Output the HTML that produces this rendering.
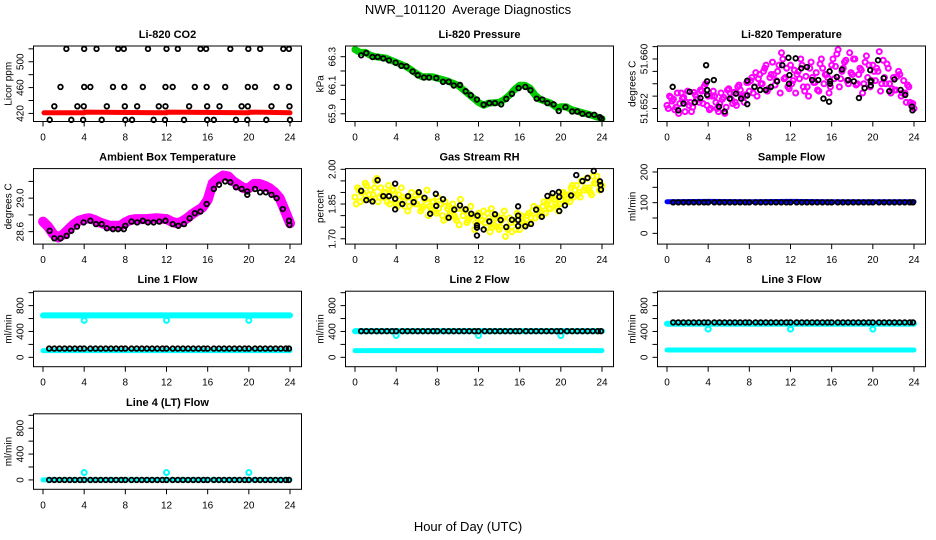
<!DOCTYPE html>
<html><head><meta charset="utf-8">
<style>
html,body{margin:0;padding:0;background:#fff;}
svg{display:block;font-family:"Liberation Sans",Arial,sans-serif;}
</style></head>
<body>
<svg id="chart" width="936" height="540" viewBox="0 0 936 540">
<rect width="936" height="540" fill="#fff"/>
<text x="468" y="14" font-size="13" text-anchor="middle">NWR_101120&#160; Average Diagnostics</text>
<text x="468" y="531" font-size="13" text-anchor="middle">Hour of Day (UTC)</text>
</svg>
<script>
// ---------- data ----------
const xTicks = [0,4,8,12,16,20,24];

const co2Hours = [2.27,4.0,5.2,7.3,7.85,10.2,12.0,13.1,15.3,15.85,18.2,19.95,21.1,23.35,23.9,
 1.7,4.0,4.6,6.8,7.9,9.7,11.9,12.6,14.75,15.9,17.7,19.9,20.6,22.7,23.9,
 1.1,3.34,3.96,6.2,7.95,9.15,11.25,11.9,14.2,15.95,17.15,19.3,19.9,22.2,23.95,
 0.65,2.75,3.9,5.7,8.0,8.65,10.75,11.85,13.7,15.95,16.6,18.75,19.85,21.7,24.0];
const co2Vals = [520,520,520,520,520,520,520,520,520,520,520,520,520,520,520,
 461,461,461,461,461,461,461,461,461,461,461,461,461,461,461,
 431,431,431,431,431,431,431,431,431,431,431,431,431,431,431,
 410,410,410,410,410,410,410,410,410,410,410,410,410,410,410];
const co2RedHours = [0.1,4,4.1,12,12.1,20,20.1,24];
const co2RedVals = [421,421,422,421,422,421,422,421];

const presHours = [0.6,1.1,1.7,2.2,2.75,3.3,3.95,4.5,5.0,5.6,6.1,6.7,7.2,7.9,8.55,9.1,9.6,10.2,10.75,11.25,11.85,12.5,13.05,13.6,14.2,14.7,15.25,15.9,16.55,17.05,17.65,18.2,18.7,19.3,19.8,20.45,21.1,21.6,22.1,22.7,23.25,23.8,23.95];
const presVals = [66.31,66.326,66.298,66.298,66.288,66.274,66.258,66.236,66.232,66.196,66.17,66.154,66.154,66.15,66.124,66.124,66.098,66.102,66.058,66.03,66.0,65.964,65.975,65.975,65.966,66.004,66.04,66.08,66.088,66.065,66.006,66.0,65.975,65.966,65.92,65.947,65.916,65.916,65.9,65.893,65.893,65.876,65.865];
const presGreenHours = [0,0.5,1,1.5,2,3,4,5,6,6.5,7.5,8,9,10,11,12,12.5,13,14,14.5,15,15.5,16,16.5,17,17.5,18,19,19.7,20,20.5,21,22,23,24];
const presGreenVals = [66.35,66.33,66.33,66.31,66.3,66.29,66.26,66.23,66.18,66.16,66.16,66.15,66.13,66.1,66.04,65.98,65.96,65.975,65.98,66.0,66.03,66.07,66.1,66.1,66.08,66.03,66.0,65.975,65.94,65.95,65.95,65.93,65.91,65.89,65.865];

const ltHours = [0.55,1.1,1.6,2.2,2.7,3.25,3.8,3.9,3.9,3.9,4.55,5.05,5.6,6.1,6.7,7.2,7.8,7.8,7.8,8.5,9.05,9.6,10.1,10.7,11.2,11.8,11.85,11.9,12.5,13.05,13.6,14.1,14.7,15.2,15.75,15.8,15.85,15.85,16.5,17.0,17.6,18.15,18.65,19.2,19.75,19.8,19.8,19.8,20.5,21.05,21.6,22.1,22.7,23.15,23.8,23.85];
const ltVals = [51.6555,51.6517,51.6528,51.6547,51.653,51.6537,51.659,51.6564,51.655,51.6542,51.6566,51.6523,51.6515,51.6536,51.6544,51.6536,51.6541,51.6527,51.6565,51.6555,51.655,51.655,51.6555,51.6564,51.659,51.6602,51.656,51.6574,51.6601,51.6585,51.6587,51.6566,51.6566,51.6536,51.6531,51.658,51.6564,51.656,51.6571,51.6583,51.6566,51.6564,51.6537,51.6553,51.6582,51.6563,51.6565,51.6557,51.6598,51.6569,51.6548,51.6567,51.655,51.6542,51.6523,51.6517];
const ltMagA = [51.6525,51.6540,51.6532,51.6518,51.6545,51.6528,51.6536,51.6515,51.6548,51.6530,51.6522,51.6542,51.6535,
 51.6550,51.6528,51.6560,51.6540,51.6520,51.6548,51.6530,51.6515,51.6545,51.6538,51.6522,51.6552,
 51.6535,51.6546,51.6525,51.6558,51.6540,51.6530,51.6562,51.6548,51.6570,51.6555,51.6540,51.6575,
 51.6560,51.6585,51.6548,51.6570,51.6595,51.6558,51.6580,51.6545,51.6600,51.6570,51.6555,51.6590,
 51.6565,51.6545,51.6580,51.6600,51.6555,51.6572,51.6540,51.6595,51.6562,51.6578,51.6548,51.6600,
 51.6560,51.6575,51.6545,51.6590,51.6568,51.6608,51.6555,51.6580,51.6595,51.6565,51.6610,51.6575,
 51.6600,51.6560,51.6585,51.6545,51.6595,51.6570,51.6555,51.6590,51.6565,51.6580,51.6548,51.6598,
 51.6560,51.6585,51.6545,51.6570,51.6550,51.6580,51.6540,51.6565,51.6530,51.6555,51.6525,51.6520];
const ltMagB = [51.6520,51.6535,51.6512,51.6538,51.6525,51.6546,51.6530,51.6556,51.6518,51.6540,51.6528,51.6512,51.6545,51.6530,51.6550,51.6542,51.6565,51.6578,51.6560,51.6590,51.6575,51.6565,51.6610,51.6585,51.6560,51.6575,51.6590,51.6555,51.6570,51.6550,51.6585,51.6570,51.6600,51.6615,51.6585,51.6560,51.6600,51.6575,51.6560,51.6590,51.6580,51.6612,51.6570,51.6560,51.6550,51.6575,51.6545,51.6530];
const ltMagC = [51.6538,51.6522,51.6545,51.6530,51.6515,51.6535,51.6548,51.6525,51.6540,51.6520,51.6535,51.6550,51.6528,51.6555,51.6538,51.6562,51.6545,51.6568,51.6580,51.6552,51.6575,51.6590,51.6568,51.6552,51.6582,51.6568,51.6548,51.6585,51.6562,51.6592,51.6575,51.6555,51.6588,51.6568,51.6598,51.6578,51.6558,51.6582,51.6605,51.6565,51.6585,51.6560,51.6592,51.6552,51.6572,51.6545,51.6558,51.6528];

const ambHours = [0.65,1.1,1.7,2.3,2.75,3.3,3.95,4.6,5.15,5.7,6.2,6.8,7.3,7.85,8.0,8.6,9.15,9.7,10.2,10.75,11.3,11.9,12.6,13.15,13.7,14.25,14.75,15.3,15.9,16.6,17.1,17.7,18.2,18.75,19.3,19.85,19.85,20.6,21.1,21.65,22.2,22.7,23.3,23.9,23.95];
const ambVals = [28.61,28.52,28.52,28.55,28.61,28.66,28.71,28.73,28.69,28.69,28.64,28.63,28.63,28.63,28.67,28.72,28.71,28.73,28.71,28.71,28.72,28.73,28.69,28.67,28.69,28.76,28.82,28.84,28.93,29.11,29.16,29.2,29.19,29.13,29.11,29.08,29.04,29.11,29.07,29.07,29.04,29.0,28.87,28.73,28.68];
const ambMagHours = [0,0.5,1,1.5,2,2.5,3,3.5,4,4.5,5,5.5,6,6.5,7,7.5,8,8.5,9,10,11,12,12.5,13,13.5,14,14.5,15,15.5,16,16.5,17,17.5,18,18.5,19,19.5,20,20.5,21,21.5,22,22.5,23,23.5,24];
const ambMagVals = [28.72,28.66,28.57,28.53,28.57,28.63,28.69,28.73,28.75,28.76,28.74,28.71,28.69,28.67,28.67,28.67,28.71,28.74,28.75,28.75,28.76,28.75,28.72,28.70,28.72,28.76,28.81,28.85,28.89,28.98,29.18,29.23,29.27,29.26,29.2,29.16,29.12,29.12,29.17,29.17,29.15,29.12,29.07,29.0,28.85,28.7];

const rhHours = [0.6,1.1,1.7,2.2,2.75,3.3,3.9,3.9,3.9,4.6,5.15,5.7,6.2,6.75,7.3,7.85,7.9,8.55,9.1,9.65,10.2,10.75,11.3,11.85,11.85,11.85,11.9,12.5,13.05,13.6,14.15,14.7,15.25,15.85,15.85,15.85,15.85,16.55,17.1,17.6,18.15,18.7,19.2,19.8,19.85,19.85,20.4,21.0,21.5,22.1,22.6,23.2,23.8,23.85,23.9];
const rhVals = [1.907,1.867,1.861,1.953,1.884,1.884,1.938,1.873,1.827,1.85,1.884,1.858,1.901,1.877,1.808,1.894,1.842,1.871,1.791,1.826,1.844,1.827,1.808,1.758,1.748,1.714,1.8,1.74,1.775,1.806,1.781,1.751,1.782,1.781,1.84,1.8,1.755,1.754,1.764,1.826,1.795,1.885,1.897,1.902,1.881,1.82,1.844,1.887,1.975,1.949,1.963,1.993,1.948,1.932,1.912];
const rhYelA = [1.88,1.92,1.86,1.90,1.94,1.87,1.91,1.89,1.95,1.86,1.92,1.88,1.90,
 1.93,1.87,1.91,1.85,1.89,1.92,1.86,1.88,1.84,1.90,1.87,1.85,
 1.89,1.83,1.87,1.91,1.84,1.86,1.82,1.88,1.85,1.80,1.86,1.83,
 1.81,1.85,1.79,1.83,1.87,1.80,1.82,1.78,1.84,1.80,1.77,1.81,
 1.78,1.82,1.75,1.79,1.83,1.76,1.80,1.74,1.78,1.82,1.75,1.79,
 1.73,1.77,1.81,1.74,1.78,1.76,1.80,1.77,1.82,1.79,1.83,1.80,
 1.84,1.81,1.86,1.83,1.88,1.85,1.82,1.87,1.90,1.86,1.89,1.92,
 1.88,1.93,1.90,1.95,1.91,1.96,1.92,1.89,1.94,1.97,1.91,1.93];
const rhYelB = [1.85,1.90,1.93,1.87,1.96,1.89,1.86,1.91,1.84,1.88,1.82,1.87,1.90,1.84,1.80,1.86,1.83,1.78,1.84,1.80,1.76,1.82,1.79,1.74,1.80,1.77,1.73,1.79,1.75,1.71,1.77,1.74,1.80,1.76,1.79,1.83,1.81,1.85,1.88,1.84,1.90,1.87,1.93,1.89,1.95,1.91,1.97,1.94];
const rhYelC = [1.91,1.87,1.89,1.92,1.88,1.90,1.85,1.89,1.87,1.84,1.88,1.85,1.82,1.87,1.83,1.81,1.85,1.79,1.82,1.78,1.83,1.77,1.80,1.76,1.78,1.81,1.75,1.77,1.79,1.74,1.78,1.80,1.77,1.81,1.84,1.80,1.86,1.83,1.87,1.85,1.89,1.86,1.91,1.88,1.92,1.90,1.94,1.92];

const flowHours = [0.6,1.1,1.6,2.1,2.6,3.1,3.6,4.0,4.6,5.1,5.6,6.1,6.6,7.1,7.6,8.0,8.6,9.1,9.6,10.1,10.6,11.1,11.6,12.0,12.6,13.1,13.6,14.1,14.6,15.1,15.6,16.0,16.6,17.1,17.6,18.1,18.6,19.1,19.6,20.0,20.6,21.1,21.6,22.1,22.6,23.1,23.6,23.9];
const bandHours = [0,4,8,12,16,20,24];
const dipHours = [4,12,20];

const sampleBlack = [101,101,101,101,101,101,101,101,101,101,101,101,101,101,101,101,101,101,101,101,101,101,101,101,101,101,101,101,101,101,101,101,101,101,101,101,101,101,101,101,101,101,101,101,101,101,101,101];
const sampleBlue = [103,104,103,104,103,103,103];

const l1Black = [135,135,135,135,135,135,135,135,135,135,135,135,135,135,135,135,135,135,135,135,135,135,135,135,135,135,135,135,135,135,135,135,135,135,135,135,135,135,135,135,135,135,135,135,135,135,135,135];
const l1CyanHi = [649,649,649,649,649,649,649];
const l1CyanLo = [104,104,104,104,104,104,104];
const l1Dips = [571,571,571];

const l2Black = [405,405,405,405,405,405,405,405,405,405,405,405,405,405,405,405,405,405,405,405,405,405,405,405,405,405,405,405,405,405,405,405,405,405,405,405,405,405,405,405,405,405,405,405,405,405,405,405];
const l2CyanHi = [405,405,405,405,405,405,405];
const l2CyanLo = [104,104,104,104,104,104,104];
const l2Dips = [337,337,337];

const l3Black = [540,540,540,540,540,540,540,540,540,540,540,540,540,540,540,540,540,540,540,540,540,540,540,540,540,540,540,540,540,540,540,540,540,540,540,540,540,540,540,540,540,540,540,540,540,540,540,540];
const l3CyanHi = [519,519,519,519,519,519,519];
const l3CyanLo = [114,114,114,114,114,114,114];
const l3Dips = [436,436,436];

const l4Black = [0,0,0,0,0,0,0,0,0,0,0,0,0,0,0,0,0,0,0,0,0,0,0,0,0,0,0,0,0,0,0,0,0,0,0,0,0,0,0,0,0,0,0,0,0,0,0,0];
const l4Cyan = [0,0,0,0,0,0,0];
const l4Dips = [114,114,114];

// ---------- drawing ----------
const NS = "http://www.w3.org/2000/svg";
const svg = document.getElementById("chart");
function mk(tag, attrs, parent){
  const e = document.createElementNS(NS, tag);
  for (const k in attrs) e.setAttribute(k, attrs[k]);
  (parent||svg).appendChild(e);
  return e;
}
function makePanel(col,row,title,ylab,ymin,ymax,yticks,ylabels,name){
  const L = 33.5 + 312*col, R = 301.5 + 312*col;
  const T = 46 + 122.6*row, B = T + 75.5;
  const g = mk("g",{});
  
  
  const xs = h => L + 9.5 + h*(247/24);
  const ys = v => B - (v - ymin)/(ymax - ymin)*(B - T);
  const t = mk("text",{x:(L+R)/2, y:T-8, "font-size":11, "font-weight":"bold", "text-anchor":"middle"}, g);
  t.textContent = title;
  
  
  xTicks.forEach(h=>{
    mk("line",{x1:xs(h),x2:xs(h),y1:B,y2:B+5,stroke:"#000","stroke-width":1}, g);
    const lt = mk("text",{x:xs(h), y:B+19, "font-size":10, "text-anchor":"middle"}, g);
    lt.textContent = h;
    
    
  });
  yticks.forEach(v=>{
    mk("line",{x1:L-5,x2:L,y1:ys(v),y2:ys(v),stroke:"#000","stroke-width":1}, g);
  });
  ylabels.forEach(v=>{
    const yy = ys(parseFloat(v));
    const lt = mk("text",{x:L-10, y:yy, "font-size":10, "text-anchor":"middle", transform:`rotate(-90 ${L-10} ${yy})`}, g);
    lt.textContent = v;
    
    
  });
  const yt = mk("text",{x:L-22, y:(T+B)/2, "font-size":10, "text-anchor":"middle", transform:`rotate(-90 ${L-22} ${(T+B)/2})`}, g);
  yt.textContent = ylab;
  
  
  const clip = mk("g",{}, g);
  const box = mk("rect",{x:L,y:T,width:R-L,height:B-T,fill:"none",stroke:"#000","stroke-width":1}, g);
  
  
  return {g:clip, xs, ys};
}
function pts(p, hours, vals, color, r, sw, nm){
  hours.forEach((h,i)=>{
    const c = mk("circle",{cx:p.xs(h), cy:p.ys(vals[i]), r:r, fill:"none", stroke:color, "stroke-width":sw}, p.g);
    
    
  });
}
function band(p, hours, vals, color, w, nm){
  const d = hours.map((h,i)=>p.xs(h).toFixed(1)+","+p.ys(vals[i]).toFixed(1)).join(" ");
  const pl = mk("polyline",{points:d, fill:"none", stroke:color, "stroke-width":w, "stroke-linecap":"round", "stroke-linejoin":"round"}, p.g);
  
  
}
function stepHours(n, start, step){ const a=[]; for(let i=0;i<n;i++) a.push(start+i*step); return a; }

const BK = 1.8;
let p = makePanel(0,0,"Li-820 CO2","Licor ppm",407.5,524.4,[420,440,460,480,500,520],["420","460","500"],"co2");
band(p, co2RedHours, co2RedVals, "#ff0000", 5, "co2-red-series");
pts(p, co2Hours, co2Vals, "#000", 2.3, BK, "co2-black-point");

p = makePanel(1,0,"Li-820 Pressure","kPa",65.846,66.375,[65.9,66.0,66.1,66.2,66.3],["65.9","66.1","66.3"],"pressure");
band(p, presGreenHours, presGreenVals, "#00cc00", 7, "pressure-green-series");
pts(p, presHours, presVals, "#000", 2.3, BK, "pressure-black-point");

p = makePanel(2,0,"Li-820 Temperature","degrees C",51.6499,51.6621,[51.652,51.654,51.656,51.658,51.660,51.662],["51.652","51.660"],"li-temp");
pts(p, stepHours(ltMagA.length,0,0.25), ltMagA, "#ff00ff", 2.5, 2, "li-temp-magenta-point");
pts(p, stepHours(ltMagB.length,0.125,0.5), ltMagB, "#ff00ff", 2.5, 2, "li-temp-magenta-point");
pts(p, stepHours(ltMagC.length,0.375,0.5), ltMagC, "#ff00ff", 2.5, 2, "li-temp-magenta-point");
pts(p, ltHours, ltVals, "#000", 2.3, BK, "li-temp-black-point");

p = makePanel(0,1,"Ambient Box Temperature","degrees C",28.451,29.353,[28.6,28.8,29.0,29.2],["28.6","29.0"],"ambient");
band(p, ambMagHours, ambMagVals, "#ff00ff", 10, "ambient-magenta-series");
pts(p, ambHours, ambVals, "#000", 2.3, BK, "ambient-black-point");

p = makePanel(1,1,"Gas Stream RH","percent",1.677,2.003,[1.70,1.75,1.80,1.85,1.90,1.95,2.00],["1.70","1.85","2.00"],"rh");
pts(p, stepHours(rhYelA.length,0,0.25), rhYelA, "#ffff00", 2.5, 2, "rh-yellow-point");
pts(p, stepHours(rhYelB.length,0.125,0.5), rhYelB, "#ffff00", 2.5, 2, "rh-yellow-point");
pts(p, stepHours(rhYelC.length,0.375,0.5), rhYelC, "#ffff00", 2.5, 2, "rh-yellow-point");
pts(p, rhHours, rhVals, "#000", 2.3, BK, "rh-black-point");

p = makePanel(2,1,"Sample Flow","ml/min",-35,211,[0,50,100,150,200],["0","100","200"],"sample-flow");
band(p, bandHours, sampleBlue, "#0000ff", 5, "sample-flow-blue-series");
pts(p, flowHours, sampleBlack, "#000", 2.3, BK, "sample-flow-black-point");

const fT = [0,200,400,600,800,1000], fL = ["0","400","800"];
p = makePanel(0,2,"Line 1 Flow","ml/min",-145,1023,fT,fL,"line1-flow");
band(p, bandHours, l1CyanHi, "#00ffff", 6, "line1-cyan-high");
band(p, bandHours, l1CyanLo, "#00ffff", 5, "line1-cyan-low");
pts(p, dipHours, l1Dips, "#00ffff", 2.5, 2, "line1-cyan-dip");
pts(p, flowHours, l1Black, "#000", 2.3, BK, "line1-black-point");

p = makePanel(1,2,"Line 2 Flow","ml/min",-145,1023,fT,fL,"line2-flow");
band(p, bandHours, l2CyanHi, "#00ffff", 6, "line2-cyan-high");
band(p, bandHours, l2CyanLo, "#00ffff", 5, "line2-cyan-low");
pts(p, dipHours, l2Dips, "#00ffff", 2.5, 2, "line2-cyan-dip");
pts(p, flowHours, l2Black, "#000", 2.3, BK, "line2-black-point");

p = makePanel(2,2,"Line 3 Flow","ml/min",-145,1023,fT,fL,"line3-flow");
band(p, bandHours, l3CyanHi, "#00ffff", 6, "line3-cyan-high");
band(p, bandHours, l3CyanLo, "#00ffff", 5, "line3-cyan-low");
pts(p, dipHours, l3Dips, "#00ffff", 2.5, 2, "line3-cyan-dip");
pts(p, flowHours, l3Black, "#000", 2.3, BK, "line3-black-point");

p = makePanel(0,3,"Line 4 (LT) Flow","ml/min",-145,1023,fT,fL,"line4-flow");
band(p, bandHours, l4Cyan, "#00ffff", 5, "line4-cyan-series");
pts(p, dipHours, l4Dips, "#00ffff", 2.5, 2, "line4-cyan-spike");
pts(p, flowHours, l4Black, "#000", 2.3, BK, "line4-black-point");
</script>
</body></html>
